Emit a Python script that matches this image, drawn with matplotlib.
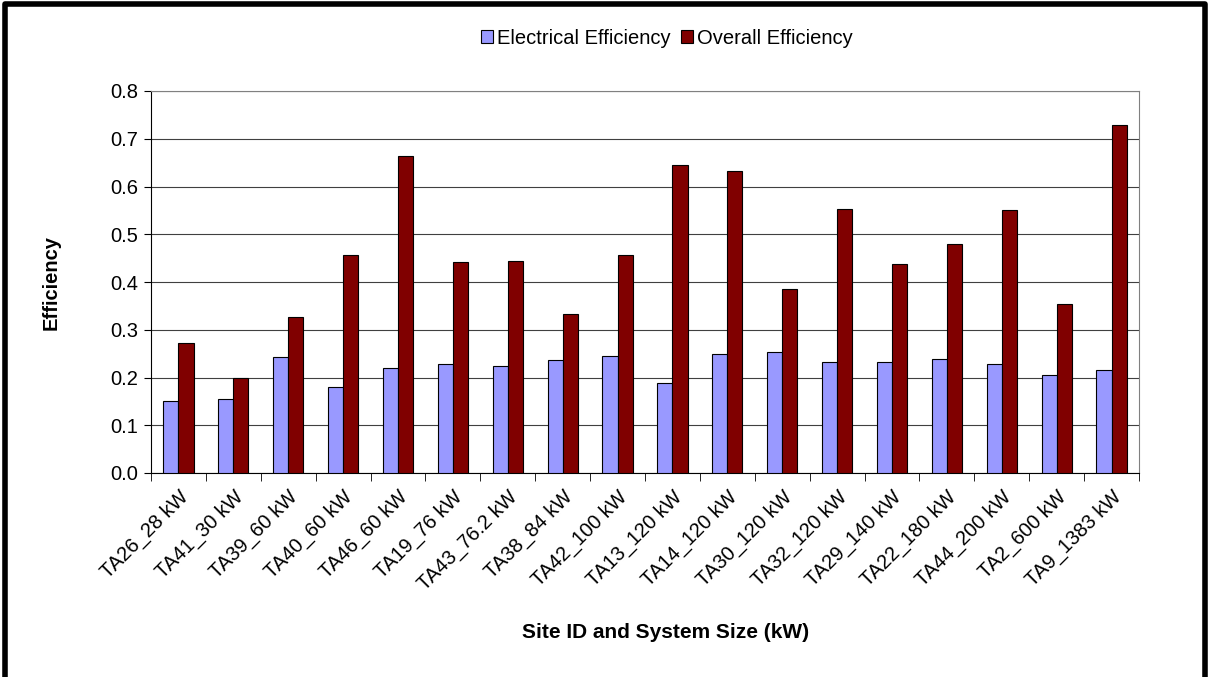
import matplotlib.pyplot as plt
import numpy as np

plt.rcParams["font.family"] = ["Liberation Sans", "DejaVu Sans"]

# ---------------------------------------------------------------------------
# Data
# ---------------------------------------------------------------------------
sites = [
    "TA26_28 kW", "TA41_30 kW", "TA39_60 kW", "TA40_60 kW", "TA46_60 kW",
    "TA19_76 kW", "TA43_76.2 kW", "TA38_84 kW", "TA42_100 kW", "TA13_120 kW",
    "TA14_120 kW", "TA30_120 kW", "TA32_120 kW", "TA29_140 kW", "TA22_180 kW",
    "TA44_200 kW", "TA2_600 kW", "TA9_1383 kW",
]
electrical = [0.151, 0.154, 0.242, 0.181, 0.219, 0.229, 0.225, 0.236, 0.246,
              0.188, 0.249, 0.253, 0.232, 0.232, 0.239, 0.229, 0.205, 0.216]
overall = [0.272, 0.199, 0.327, 0.456, 0.664, 0.442, 0.445, 0.334, 0.456,
           0.644, 0.632, 0.385, 0.553, 0.438, 0.479, 0.550, 0.354, 0.729]
yticks = [0.0, 0.1, 0.2, 0.3, 0.4, 0.5, 0.6, 0.7, 0.8]

FS = 14.5

# ---------------------------------------------------------------------------
# Plot
# ---------------------------------------------------------------------------
fig = plt.figure(figsize=(12.09, 6.77), dpi=100)
ax = fig.add_axes([151 / 1209, 1 - 473 / 677, (1139 - 151) / 1209, (473 - 91) / 677])

x = np.arange(len(sites))
w = 0.275
ax.bar(x - w / 2, electrical, w, color="#9999FF", edgecolor="black",
       linewidth=0.8, label="Electrical Efficiency", zorder=3)
ax.bar(x + w / 2, overall, w, color="#800000", edgecolor="black",
       linewidth=0.8, label="Overall Efficiency", zorder=3)

ax.set_xlim(-0.5, len(sites) - 0.5)
ax.set_ylim(0, 0.8)
ax.set_yticks(yticks)
ax.set_yticklabels([f"{v:.1f}" for v in yticks], fontsize=FS)
ax.yaxis.grid(True, color="#404040", linewidth=0.8, zorder=0)

# category ticks sit between groups
ax.set_xticks(np.arange(len(sites) + 1) - 0.5, minor=True)
ax.set_xticks(x)
ax.set_xticklabels(sites, rotation=45, ha="right", rotation_mode="anchor",
                   fontsize=FS)
ax.tick_params(axis="x", which="major", length=0, pad=10)
ax.tick_params(axis="x", which="minor", length=6, direction="out", color="black")
ax.tick_params(axis="y", length=5, direction="out", pad=4)

for side in ["top", "right"]:
    ax.spines[side].set_color("#808080")
ax.spines["left"].set_color("black")
ax.spines["bottom"].set_color("black")

ax.set_ylabel("Efficiency", fontsize=FS, fontweight="bold")
ax.yaxis.set_label_coords((61 - 151) / (1139 - 151), 0.5)
fig.text(666 / 1209, 1 - 633 / 677, "Site ID and System Size (kW)",
         ha="center", va="center", fontsize=15, fontweight="bold")

fig.legend(loc="center", bbox_to_anchor=(667 / 1209, 1 - 38 / 677), ncol=2,
           frameon=False, fontsize=FS, handlelength=0.6, handleheight=0.6,
           handletextpad=0.2, columnspacing=0.5)

# outer chart border (open at the bottom, as in the cropped original)
fig.add_artist(plt.Line2D([0.0045, 0.0045, 0.9967, 0.9967], [0, 0.994, 0.994, 0],
                          transform=fig.transFigure, color="black", linewidth=4))

fig.savefig("out.png", dpi=100)
